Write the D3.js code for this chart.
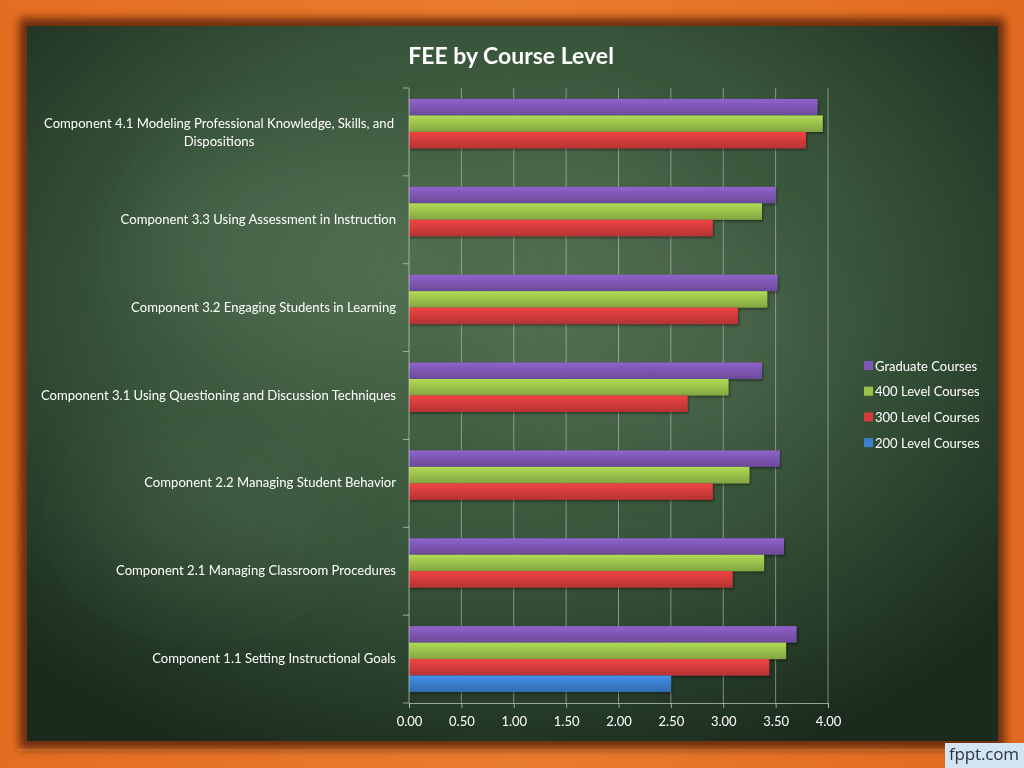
<!DOCTYPE html>
<html>
<head>
<meta charset="utf-8">
<script src="https://cdn.jsdelivr.net/npm/d3@7"></script>
<style>
  html, body { margin: 0; padding: 0; background: #e06c22; }
  svg { display: block; }
</style>
</head>
<body>
<svg id="chart"></svg>
<script>
// data
const categories = [
  "Component 4.1 Modeling Professional Knowledge, Skills, and Dispositions",
  "Component 3.3 Using Assessment in Instruction",
  "Component 3.2 Engaging Students in Learning",
  "Component 3.1 Using Questioning and Discussion Techniques",
  "Component 2.2 Managing Student Behavior",
  "Component 2.1 Managing Classroom Procedures",
  "Component 1.1 Setting Instructional Goals"
]
const seriesNames = ["Graduate Courses", "400 Level Courses", "300 Level Courses", "200 Level Courses"]
const graduate = [3.90, 3.50, 3.52, 3.37, 3.54, 3.58, 3.70]
const level400 = [3.95, 3.37, 3.42, 3.05, 3.25, 3.39, 3.60]
const level300 = [3.79, 2.90, 3.14, 2.66, 2.90, 3.09, 3.44]
const level200 = [null, null, null, null, null, null, 2.50]
const xTicks = [0, 0.5, 1, 1.5, 2, 2.5, 3, 3.5, 4]
const seriesColors = ["#7e57b4", "#9cc24c", "#d63c3c", "#3b7fcf"]

const width = 1024
const height = 768
let dimensions = {
  width: width,
  height: height,
  margin: { top: 88, right: 196, bottom: 65, left: 409 },
}
dimensions.boundedWidth = dimensions.width - dimensions.margin.left - dimensions.margin.right
dimensions.boundedHeight = dimensions.height - dimensions.margin.top - dimensions.margin.bottom

const wrapper = d3.select("#chart")
    .attr("width", dimensions.width)
    .attr("height", dimensions.height)

const defs = wrapper.append("defs")

// board background
const board = defs.append("radialGradient").attr("id", "board")
    .attr("cx", "0.48").attr("cy", "0.38").attr("r", "0.7")
board.append("stop").attr("offset", "0").attr("stop-color", "#4d6b4c")
board.append("stop").attr("offset", "0.55").attr("stop-color", "#38543a")
board.append("stop").attr("offset", "1").attr("stop-color", "#1a2a1d")

const frame = defs.append("linearGradient").attr("id", "frame")
    .attr("x1", 0).attr("y1", 0).attr("x2", 1).attr("y2", 0)
frame.append("stop").attr("offset", "0").attr("stop-color", "#e36e22")
frame.append("stop").attr("offset", "0.5").attr("stop-color", "#ea7c2e")
frame.append("stop").attr("offset", "1").attr("stop-color", "#e06a20")

const blur = defs.append("filter").attr("id", "blur")
    .attr("x", "-50%").attr("y", "-50%").attr("width", "200%").attr("height", "200%")
blur.append("feGaussianBlur").attr("stdDeviation", 40)

const edge = defs.append("filter").attr("id", "edge")
    .attr("x", "-10%").attr("y", "-10%").attr("width", "120%").attr("height", "120%")
edge.append("feGaussianBlur").attr("stdDeviation", 4)

const shadow = defs.append("filter").attr("id", "shadow")
    .attr("x", "-5%").attr("y", "-30%").attr("width", "110%").attr("height", "180%")
shadow.append("feDropShadow").attr("dx", 1).attr("dy", 1.5)
    .attr("stdDeviation", 1.2).attr("flood-color", "#000").attr("flood-opacity", 0.45)

seriesColors.forEach((c, i) => {
  const g = defs.append("linearGradient").attr("id", "bar" + i)
      .attr("x1", 0).attr("y1", 0).attr("x2", 0).attr("y2", 1)
  g.append("stop").attr("offset", "0").attr("stop-color", d3.color(c).brighter(0.35))
  g.append("stop").attr("offset", "0.45").attr("stop-color", c)
  g.append("stop").attr("offset", "1").attr("stop-color", d3.color(c).darker(0.45))
})

wrapper.append("rect")
    .attr("width", width).attr("height", height)
    .attr("fill", "url(#frame)")

// lighter lip under the board
wrapper.append("rect")
    .attr("x", 18).attr("y", 749).attr("width", 988).attr("height", 2)
    .attr("fill", "#f29a55").attr("opacity", 0.6)

// darker inner rim of the frame
wrapper.append("rect")
    .attr("x", 19).attr("y", 18).attr("width", 986).attr("height", 731)
    .attr("fill", "#6e2e0c").attr("filter", "url(#edge)")

wrapper.append("rect")
    .attr("x", 27).attr("y", 26).attr("width", 971).attr("height", 715)
    .attr("fill", "url(#board)")

// some cloudy chalk smears
const smears = [[300, 250, 160, 110, 0.10], [650, 330, 170, 120, 0.08], [560, 180, 120, 60, 0.07], [200, 520, 130, 90, 0.06]]
wrapper.append("g").attr("filter", "url(#blur)")
  .selectAll("ellipse").data(smears).join("ellipse")
    .attr("cx", d => d[0]).attr("cy", d => d[1])
    .attr("rx", d => d[2]).attr("ry", d => d[3])
    .attr("fill", "#a8c4a4").attr("opacity", d => d[4])

// fppt.com tag
wrapper.append("rect")
    .attr("x", 945).attr("y", 743).attr("width", 79).attr("height", 25)
    .attr("fill", "#d3e5f2")
wrapper.append("text")
    .attr("x", 984).attr("y", 760)
    .attr("text-anchor", "middle")
    .attr("textLength", 70)
    .style("font-family", "'Open Sans', sans-serif")
    .style("font-size", "17px")
    .style("fill", "#2c3440")
    .text("fppt.com")

// title
wrapper.append("text")
    .attr("x", 511).attr("y", 64)
    .attr("text-anchor", "middle")
    .style("font-family", "Lato, sans-serif")
    .style("font-weight", "bold")
    .style("font-size", "23px")
    .style("fill", "#ffffff")
    .text("FEE by Course Level")

const bounds = wrapper.append("g")
    .attr("transform", `translate(${dimensions.margin.left}, ${dimensions.margin.top})`)

// scales
const xScale = d3.scaleLinear()
  .domain([0, 4])
  .range([0, dimensions.boundedWidth])

const yScale = d3.scaleBand()
  .domain(categories)
  .range([0, dimensions.boundedHeight])
  .paddingInner(0.25)
  .paddingOuter(0.125)

const subScale = d3.scaleBand()
  .domain(seriesNames)
  .range([0, yScale.bandwidth()])

// gridlines
bounds.append("g")
  .selectAll("line").data(xTicks.slice(1)).join("line")
    .attr("x1", d => xScale(d)).attr("x2", d => xScale(d))
    .attr("y1", 0).attr("y2", dimensions.boundedHeight)
    .attr("stroke", "#c9d3c6").attr("stroke-opacity", 0.55)
    .attr("stroke-width", 1)

// bars
const allSeries = [graduate, level400, level300, level200]
allSeries.forEach((values, si) => {
  const rows = categories.map((c, i) => ({ category: c, value: values[i] }))
    .filter(d => d.value != null)
  bounds.append("g")
    .attr("filter", "url(#shadow)")
    .selectAll("rect").data(rows).join("rect")
      .attr("x", 0)
      .attr("y", d => yScale(d.category) + subScale(seriesNames[si]))
      .attr("width", d => xScale(d.value))
      .attr("height", subScale.bandwidth())
      .attr("fill", `url(#bar${si})`)
})

// vertical axis line and ticks at band edges
const step = dimensions.boundedHeight / categories.length
bounds.append("line")
    .attr("x1", 0).attr("x2", 0)
    .attr("y1", 0).attr("y2", dimensions.boundedHeight)
    .attr("stroke", "#c9d3c6").attr("stroke-opacity", 0.7)
bounds.append("g")
  .selectAll("line").data(d3.range(0, categories.length + 1)).join("line")
    .attr("x1", -6).attr("x2", 0)
    .attr("y1", d => d * step).attr("y2", d => d * step)
    .attr("stroke", "#c9d3c6").attr("stroke-opacity", 0.7)

// x axis
const xAxis = d3.axisBottom(xScale)
  .tickValues(xTicks)
  .tickFormat(d3.format(".2f"))
  .tickSize(5)
const xAxisGroup = bounds.append("g")
  .attr("transform", `translate(0, ${dimensions.boundedHeight})`)
  .call(xAxis)
xAxisGroup.select(".domain").attr("stroke", "#c9d3c6").attr("stroke-opacity", 0.7)
xAxisGroup.selectAll(".tick line").attr("stroke", "#c9d3c6").attr("stroke-opacity", 0.7)
xAxisGroup.selectAll("text")
  .attr("y", 14)
  .style("font-family", "Lato, sans-serif")
  .style("font-size", "13px")
  .style("fill", "#ffffff")

// category labels
const labelGroup = bounds.append("g")
categories.forEach(c => {
  const cy = yScale(c) + yScale.bandwidth() / 2
  const t = labelGroup.append("text")
      .attr("text-anchor", "end")
      .attr("x", -13)
      .attr("y", cy + 4)
      .style("font-family", "Lato, sans-serif")
      .style("font-size", "13.1px")
      .style("fill", "#ffffff")
  if (c.length > 60) {
    const cut = c.lastIndexOf(" ")
    t.attr("text-anchor", "middle").attr("x", -13 - 177).attr("y", cy - 4)
    t.append("tspan").attr("x", -13 - 177).text(c.slice(0, cut))
    t.append("tspan").attr("x", -13 - 177).attr("dy", 18).text(c.slice(cut + 1))
  } else {
    t.text(c)
  }
})

// legend
const legend = wrapper.append("g")
  .attr("transform", "translate(864, 361)")
seriesNames.forEach((name, i) => {
  const item = legend.append("g").attr("transform", `translate(0, ${i * 25.7})`)
  item.append("rect")
      .attr("width", 9).attr("height", 9)
      .attr("fill", seriesColors[i])
  item.append("text")
      .attr("x", 11).attr("y", 9.5)
      .style("font-family", "Lato, sans-serif")
      .style("font-size", "13px")
      .style("fill", "#ffffff")
      .text(name)
})
</script>
</body>
</html>
